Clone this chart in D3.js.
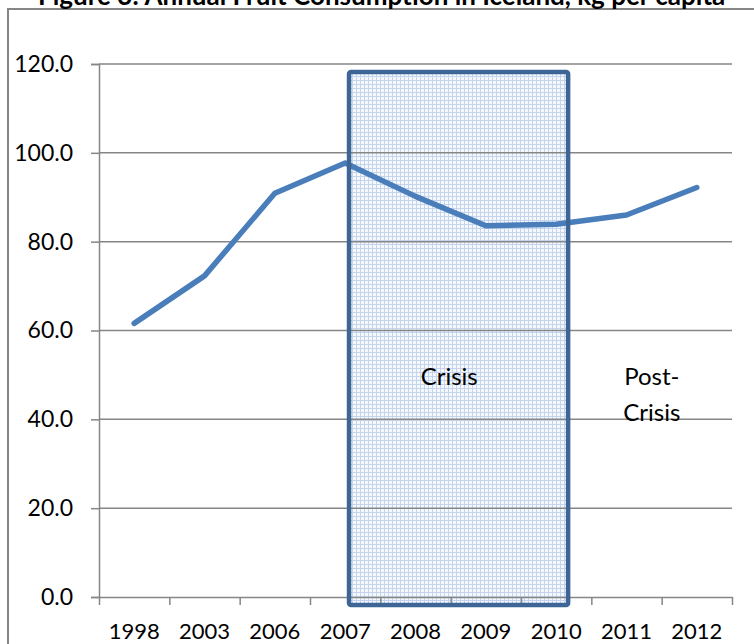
<!DOCTYPE html>
<html><head><meta charset="utf-8">
<script src="https://cdn.jsdelivr.net/npm/d3@7"></script>
<style>
html,body{margin:0;padding:0;background:#fff;}
svg{display:block;}
text{font-family:Lato,"Open Sans",sans-serif;}
</style></head>
<body>
<svg id="chart" width="754" height="644"></svg>
<script>
const title = "Figure 3: Annual Fruit Consumption in Iceland, kg per capita";
const years = ["1998","2003","2006","2007","2008","2009","2010","2011","2012"];
const values = [61.6, 72.3, 90.9, 97.7, 90.2, 83.6, 83.9, 86.0, 92.2];
const yTicks = [0, 20, 40, 60, 80, 100, 120];
// crisis box in axis units: [start index, end index, top value, bottom value]
const crisisBox = [3.555, 6.67, 118.2, -1.8];
const annotations = [
  {lines:["Crisis"], pos:4.98, v:47.7},
  {lines:["Post-","Crisis"], pos:7.86, v:47.7}
];

(function(){
const svg = d3.select("#chart");
const W = 754, H = 644;
const mLeft = 99, mRight = 732, mTop = 64, mBottom = 597;

const xIdx = d3.scaleLinear().domain([0, years.length]).range([mLeft, mRight]);
const xBand = d3.scaleBand().domain(years).range([mLeft, mRight]).padding(0);
const y = d3.scaleLinear().domain([0, 120]).range([mBottom, mTop]);

// pattern
const defs = svg.append("defs");
const pat = defs.append("pattern").attr("id","dots").attr("patternUnits","userSpaceOnUse")
  .attr("width",4).attr("height",4);
pat.append("rect").attr("width",4).attr("height",4).attr("fill","#f5f8fd");
pat.append("rect").attr("x",0).attr("y",0).attr("width",4).attr("height",1).attr("fill","#c3d4ec");
pat.append("rect").attr("x",0).attr("y",0).attr("width",1).attr("height",4).attr("fill","#c3d4ec");

// outer border
svg.append("rect").attr("x",8).attr("y",9).attr("width",W+20).attr("height",H+20)
  .attr("fill","none").attr("stroke","#868686").attr("stroke-width",2);

// title (cut off at top, as in the reference)
svg.append("text").attr("x",38).attr("y",5).attr("font-weight","bold")
  .attr("font-size",26).attr("fill","#000").text(title);

// crisis fill
const bx0 = xIdx(crisisBox[0]), bx1 = xIdx(crisisBox[1]);
const by0 = y(crisisBox[2]), by1 = y(crisisBox[3]);
svg.append("rect").attr("x",bx0).attr("y",by0).attr("width",bx1-bx0).attr("height",by1-by0)
  .attr("fill","url(#dots)");

// gridlines
svg.append("g").selectAll("line").data(yTicks.filter(d=>d>0)).join("line")
  .attr("x1",mLeft).attr("x2",mRight).attr("y1",d=>y(d)).attr("y2",d=>y(d))
  .attr("stroke","#868686").attr("stroke-width",1.5);

// y axis
const yAxis = d3.axisLeft(y).tickValues(yTicks).tickFormat(d3.format(".1f")).tickSize(8).tickPadding(18);
const gy = svg.append("g").attr("transform",`translate(${mLeft},0)`).call(yAxis);
gy.select(".domain").attr("stroke","#868686").attr("stroke-width",1.5);
gy.selectAll(".tick line").attr("stroke","#868686").attr("stroke-width",1.5);
gy.selectAll(".tick text").attr("font-size",23).attr("fill","#000")
  .attr("font-family","Lato,'Open Sans',sans-serif");

// x axis
const xAxis = d3.axisBottom(xIdx).tickValues(d3.range(0, years.length+1)).tickFormat("").tickSize(8).tickSizeOuter(0);
const gx = svg.append("g").attr("transform",`translate(0,${mBottom})`).call(xAxis);
gx.select(".domain").attr("stroke","#868686").attr("stroke-width",1.5);
gx.selectAll(".tick line").attr("stroke","#868686").attr("stroke-width",1.5);
svg.append("g").selectAll("text").data(years).join("text")
  .attr("x",d=>xBand(d)+xBand.bandwidth()/2).attr("y",mBottom+42)
  .attr("text-anchor","middle").attr("font-size",22).attr("fill","#000").text(d=>d);

// line
const line = d3.line().x((d,i)=>xBand(years[i])+xBand.bandwidth()/2).y(d=>y(d));
svg.append("path").datum(values).attr("d",line).attr("fill","none")
  .attr("stroke","#4a7ebb").attr("stroke-width",5.5).attr("stroke-linejoin","round").attr("stroke-linecap","round");

// crisis border
svg.append("rect").attr("x",bx0).attr("y",by0).attr("width",bx1-bx0).attr("height",by1-by0)
  .attr("rx",2).attr("fill","none").attr("stroke","#3d6595").attr("stroke-width",4.5);

// annotations
annotations.forEach(a=>{
  const t = svg.append("text").attr("text-anchor","middle").attr("font-size",24).attr("fill","#000");
  a.lines.forEach((l,i)=>{
    t.append("tspan").attr("x",xIdx(a.pos)).attr("y",y(a.v)+i*36).text(l);
  });
});
})();
</script>
</body></html>
